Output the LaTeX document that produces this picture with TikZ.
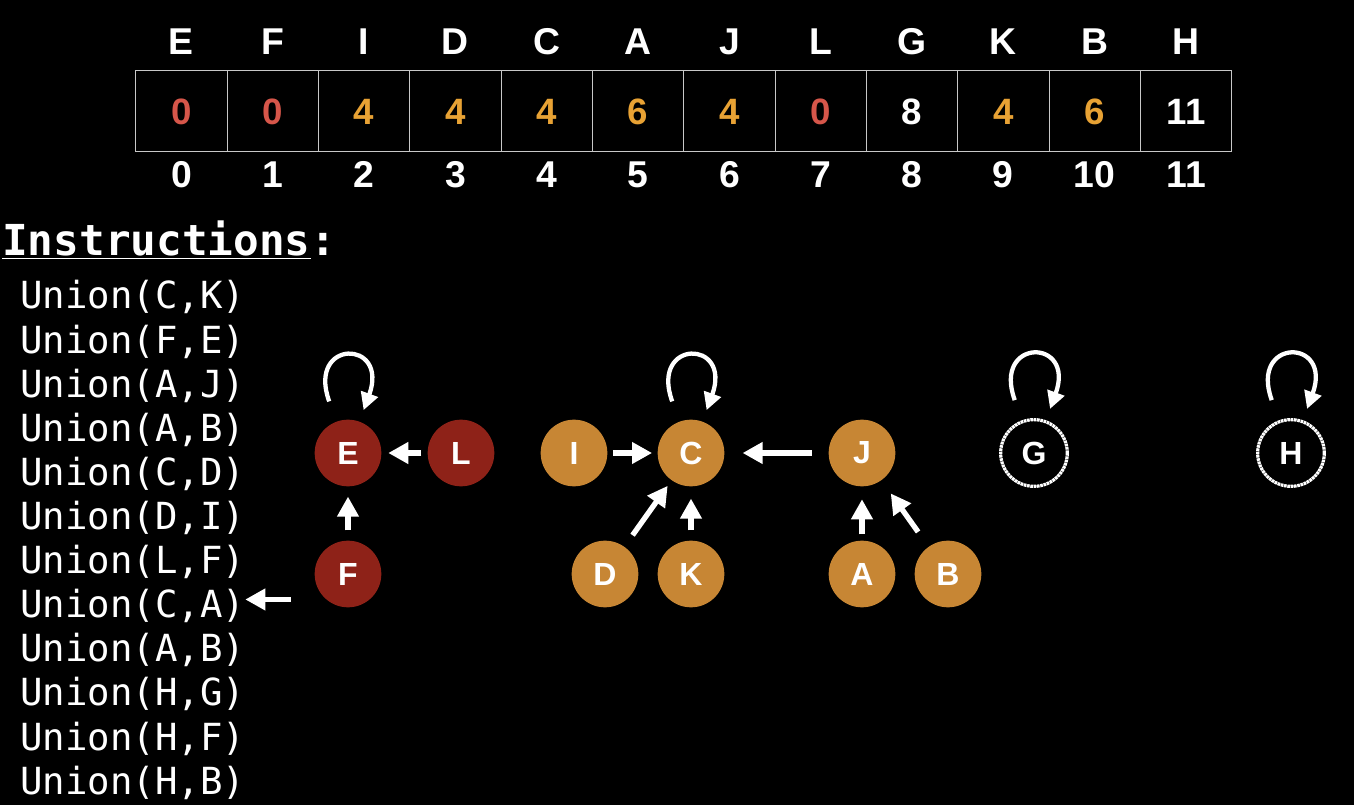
\documentclass[tikz,border=0pt]{standalone}
\usepackage{fontspec}
\setmainfont{Liberation Sans}
\newfontfamily\codefont{DejaVu Sans Mono}
\usetikzlibrary{arrows.meta}
\definecolor{setred}{RGB}{142,34,24}
\definecolor{setorange}{RGB}{199,134,52}
\definecolor{valred}{RGB}{214,86,74}
\definecolor{valorange}{RGB}{232,162,52}
\definecolor{cellgray}{RGB}{200,200,200}
\begin{document}
\begin{tikzpicture}[x=0.75pt, y=-0.75pt, white,
  cell/.style={draw=cellgray, line width=0.8pt, minimum width=68.5pt, minimum height=61pt, inner sep=0pt, text height=20pt, text depth=0pt, font=\fontsize{27.5}{30}\selectfont\bfseries},
  tabtxt/.style={anchor=base, inner sep=0pt, font=\fontsize{28}{30}\selectfont\bfseries},
  setnode/.style={circle, minimum size=50pt, inner sep=0pt, text=white, font=\fontsize{24}{26}\selectfont\bfseries},
  rednode/.style={setnode, fill=setred},
  orangenode/.style={setnode, fill=setorange},
  lonenode/.style={setnode, draw=white, line width=2.4pt, dash pattern=on 2pt off 0.5pt},
  ptr/.style={-{Triangle[length=15pt,width=15.5pt]}, line width=4pt},
  selfloop/.style={-{Triangle[length=13pt,width=13pt]}, line width=3.2pt, shorten <=16pt, shorten >=9pt},
  code/.style={anchor=base west, inner sep=0pt, font=\codefont\fontsize{28}{30}\selectfont}]
\fill[black] (0,0) rectangle (1354,805);
\useasboundingbox (0,0) rectangle (1354,805);
\foreach \name/\val/\col [count=\i from 0] in {E/0/valred,F/0/valred,I/4/valorange,D/4/valorange,C/4/valorange,A/6/valorange,J/4/valorange,L/0/valred,G/8/white,K/4/valorange,B/6/valorange,H/11/white}{
  \node[cell, text=\col] (cell\i) at (181.4+91.33*\i,111) {\val};
  \node[tabtxt] (head\i) at (181.4+91.33*\i,55) {\name};
  \node[tabtxt] (idx\i) at (181.4+91.33*\i,188) {\i};
}
\node[anchor=base west, inner sep=0pt, font=\codefont\bfseries\fontsize{32}{34}\selectfont] (instr) at (2,256) {\underline{Instructions}:};
\foreach \p/\q [count=\k from 0] in {C/K,F/E,A/J,A/B,C/D,D/I,L/F,C/A,A/B,H/G,H/F,H/B}{
  \node[code] (u\k) at (20,309+44.1*\k) {Union(\p,\q)};
}
\coordinate (cur) at ([xshift=34pt,yshift=5pt]u7.east);
\draw[ptr, shorten >=0pt] (cur) -- ([yshift=5pt]u7.east);

\node[rednode] (E) at (348,453) {E};
\node[rednode] (L) at (461,453) {L};
\node[rednode] (F) at (348,574) {F};
\node[orangenode] (I) at (574,453) {I};
\node[orangenode] (C) at (691,453) {C};
\node[orangenode] (J) at (862,453) {J};
\node[orangenode] (D) at (605,574) {D};
\node[orangenode] (K) at (691,574) {K};
\node[orangenode] (A) at (862,574) {A};
\node[orangenode] (B) at (948,574) {B};
\node[lonenode] (G) at (1034,453) {G};
\node[lonenode] (H) at (1291,453) {H};

\draw[ptr, shorten <=4.5pt, shorten >=5pt] (L) -- (E);
\draw[ptr, shorten <=7.5pt, shorten >=7.5pt] (F) -- (E);
\draw[ptr, shorten <=4pt, shorten >=4pt] (I) -- (C);
\draw[ptr, shorten <=12.5pt, shorten >=13.5pt] (J) -- (C);
\draw[ptr, shorten <=10.5pt, shorten >=5pt] (D) -- (C);
\draw[ptr, shorten <=7.5pt, shorten >=9pt] (K) -- (C);
\draw[ptr, shorten <=4.5pt, shorten >=9.5pt] (A) -- (J);
\draw[ptr, shorten <=13.5pt, shorten >=12pt] (B) -- (J);

\draw[selfloop] (E) to[out=110,in=70,distance=66pt] (E);
\draw[selfloop] (C) to[out=110,in=70,distance=66pt] (C);
\draw[selfloop] (G) to[out=110,in=70,distance=66pt] (G);
\draw[selfloop] (H) to[out=110,in=70,distance=66pt] (H);
\end{tikzpicture}
\end{document}
